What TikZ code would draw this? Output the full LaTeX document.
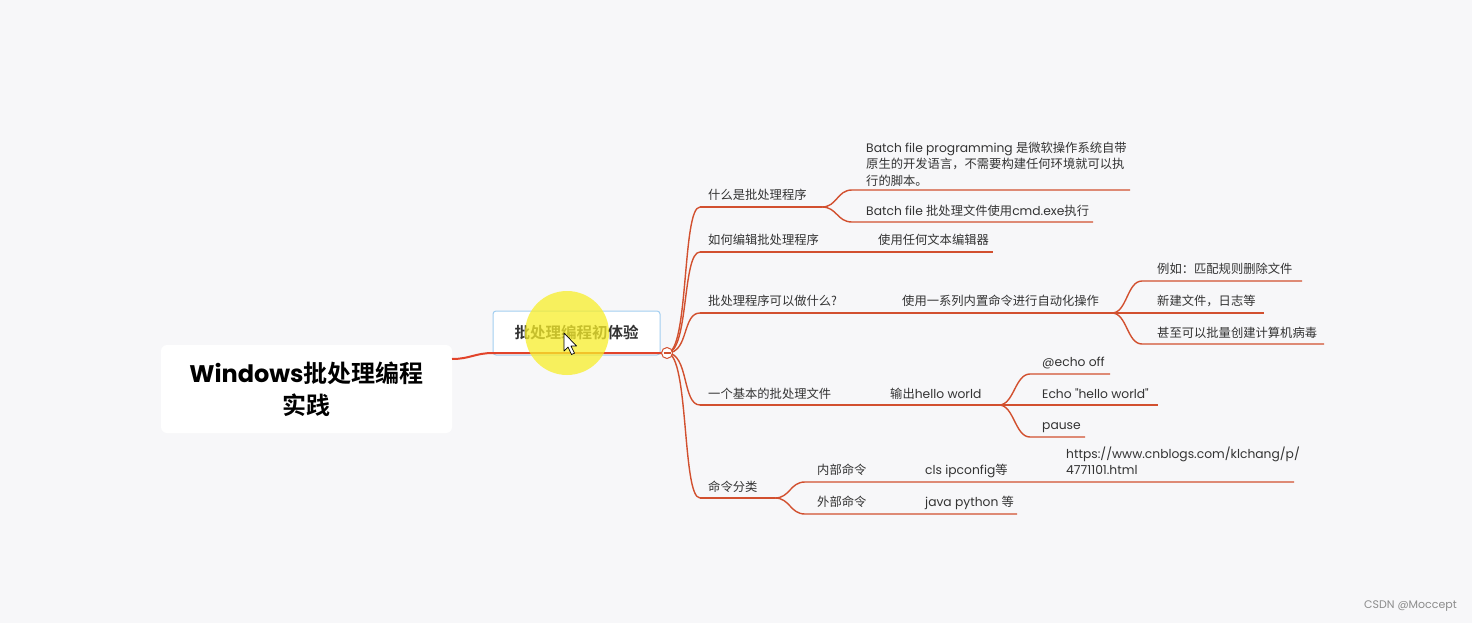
\documentclass[tikz,border=0pt]{standalone}
\usepackage{fontspec}
\usetikzlibrary{calc}
\setmainfont{Poppins}
\newfontfamily\plainfont{Poppins}[Ligatures=TeXOff]
\newfontfamily\cjk{Noto Sans CJK SC}[BoldFont={* Bold}]
\newcommand{\C}[1]{{\cjk #1}}
\definecolor{bgc}{HTML}{F7F7F9}
\definecolor{brc}{HTML}{D2502F}
\definecolor{rootc}{HTML}{E2432A}
\definecolor{txt}{HTML}{333333}
\definecolor{boxc}{HTML}{A2CEF0}
\definecolor{hl}{HTML}{F8EE2A}
\tikzset{
  br/.style={draw=brc, line width=1.4pt},
  lbl/.style={anchor=west, inner sep=0pt, text=txt, text height=10pt, text depth=2pt, font=\fontsize{12.3}{16.5}\selectfont},
  lblm/.style={anchor=north west, inner sep=0pt, text=txt, align=left, font=\fontsize{12.3}{16.5}\selectfont},
}
\begin{document}
\begin{tikzpicture}[x=1pt,y=-1pt]
\fill[bgc] (0,0) rectangle (1472,623);
\useasboundingbox (0,0) rectangle (1472,623);

% root
\node[fill=white, rounded corners=6pt, minimum width=291pt, minimum height=88pt, inner sep=0pt,
      align=center, font=\fontsize{24}{32}\selectfont\bfseries, text=black] (root) at (306.5,389)
      {Windows\C{\bfseries 批处理编程}\\\C{\bfseries 实践}};

% center node
\node[draw=boxc, line width=1pt, fill=white, rounded corners=3pt, minimum width=167pt, minimum height=44pt,
      inner sep=0pt, font=\fontsize{15.5}{18}\selectfont, text=txt] (cen) at (576.5,333) {\C{\bfseries 批处理编程初体验}};

\coordinate (rootR) at (452,359);
\coordinate (cenL) at (493,353);
\coordinate (hub) at (667,353);
\draw[draw=rootc, line width=2pt] (rootR) .. controls +(18,0) and +(-18,0) .. (cenL) -- (hub);

% level-1 start points
\coordinate (a0) at (700,207);
\coordinate (b0) at (700,252);
\coordinate (c0) at (700,313);
\coordinate (d0) at (700,405);
\coordinate (e0) at (700,498);
\foreach \p in {a0,b0,c0,d0,e0}
  \draw[br] (hub) .. controls +(22,0) and +(-18,0) .. (\p);

% branch 1
\coordinate (a1) at (822,207);
\coordinate (a11) at (852,190); \coordinate (a11e) at (1130,190);
\coordinate (a12) at (852,222); \coordinate (a12e) at (1093,222);
\draw[br] (a0) -- (a1);
\draw[br] (a1) .. controls +(15,0) and +(-15,0) .. (a11) -- (a11e);
\draw[br] (a1) .. controls +(15,0) and +(-15,0) .. (a12) -- (a12e);
\node[lbl] (ta) at (708,195) {\C{什么是批处理程序}};
\node[lblm] (ta1) at (866,141.5) {Batch file programming \C{是微软操作系统自带}\\\C{原生的开发语言，不需要构建任何环境就可以执}\\\C{行的脚本。}};
\node[lbl] (ta2) at (866,211) {Batch file \C{批处理文件使用}cmd.exe\C{执行}};

% branch 2
\coordinate (b1) at (993,252);
\draw[br] (b0) -- (b1);
\node[lbl] (tb) at (708,240) {\C{如何编辑批处理程序}};
\node[lbl] (tb1) at (878,240) {\C{使用任何文本编辑器}};

% branch 3
\coordinate (c1) at (1112,313);
\coordinate (c11) at (1142,281); \coordinate (c11e) at (1302,281);
\coordinate (c12e) at (1264,313);
\coordinate (c13) at (1142,344); \coordinate (c13e) at (1324,344);
\draw[br] (c0) -- (c1) -- (c12e);
\draw[br] (c1) .. controls +(15,0) and +(-15,0) .. (c11) -- (c11e);
\draw[br] (c1) .. controls +(15,0) and +(-15,0) .. (c13) -- (c13e);
\node[lbl] (tc) at (708,301) {\C{批处理程序可以做什么?}};
\node[lbl] (tc1) at (902,301) {\C{使用一系列内置命令进行自动化操作}};
\node[lbl] (tc11) at (1157,269) {\C{例如：匹配规则删除文件}};
\node[lbl] (tc12) at (1157,301) {\C{新建文件，日志等}};
\node[lbl] (tc13) at (1157,333) {\C{甚至可以批量创建计算机病毒}};

% branch 4
\coordinate (d1) at (999,405);
\coordinate (d11) at (1030,374); \coordinate (d11e) at (1110,374);
\coordinate (d12e) at (1158,405);
\coordinate (d13) at (1030,437); \coordinate (d13e) at (1085,437);
\draw[br] (d0) -- (d1) -- (d12e);
\draw[br] (d1) .. controls +(15,0) and +(-15,0) .. (d11) -- (d11e);
\draw[br] (d1) .. controls +(15,0) and +(-15,0) .. (d13) -- (d13e);
\node[lbl] (td) at (708,394) {\C{一个基本的批处理文件}};
\node[lbl] (td1) at (890,394) {\C{输出}hello world};
\node[lbl] (td11) at (1042,362) {@echo off};
\node[lbl] (td12) at (1042,394) {{\plainfont Echo "hello world"}};
\node[lbl] (td13) at (1042,425) {pause};

% branch 5
\coordinate (e1) at (775,498);
\coordinate (e11) at (805,482); \coordinate (e11e) at (1294,482);
\coordinate (e12) at (805,514); \coordinate (e12e) at (1017,514);
\draw[br] (e0) -- (e1);
\draw[br] (e1) .. controls +(15,0) and +(-15,0) .. (e11) -- (e11e);
\draw[br] (e1) .. controls +(15,0) and +(-15,0) .. (e12) -- (e12e);
\node[lbl] (te) at (708,487) {\C{命令分类}};
\node[lbl] (te1) at (817,470) {\C{内部命令}};
\node[lbl] (te11) at (925,470) {cls ipconfig\C{等}};
\node[lblm] (te111) at (1066,446.5) {https://www.cnblogs.com/klchang/p/\\4771101.html};
\node[lbl] (te2) at (817,502) {\C{外部命令}};
\node[lbl] (te21) at (925,502) {java python \C{等}};

% hub button
\node[circle, draw=brc, line width=1pt, fill=white, minimum size=11pt, inner sep=0pt] (hubc) at (hub) {};
\draw[brc, line width=1.2pt] ($(hub)+(-3.5,0)$) -- ($(hub)+(3.5,0)$);

% cursor highlight
\fill[hl, opacity=0.75] (567,333) circle (42);
\coordinate (tip) at (564,333);
\draw[fill=white, draw=black, line width=0.7pt, line join=round]
  (tip) -- ++(0,18) -- ++(4,-4) -- ++(3.5,7.5) -- ++(3,-1.3) -- ++(-3.5,-7.2) -- ++(5.5,0) -- cycle;

% watermark
\node[anchor=east, inner sep=0pt, text=black!45, font=\fontsize{11}{13}\selectfont] (wm) at (1457,606) {CSDN @Moccept};
\end{tikzpicture}
\end{document}
